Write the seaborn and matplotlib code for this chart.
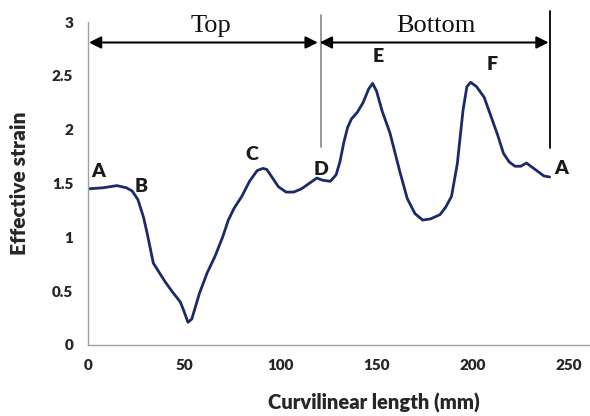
import matplotlib
matplotlib.use("Agg")
import matplotlib.pyplot as plt
import seaborn as sns
import pandas as pd

# Data
length_mm = [0, 8, 15, 20, 23, 26, 29, 31, 34, 40, 44, 48, 50, 52, 54, 58, 62, 66, 70, 73, 76, 80, 84,
             88, 91, 93, 96, 99, 103, 107, 111, 115, 119, 122, 126, 129, 131, 133, 135, 137, 140, 143,
             146, 148, 150, 153, 157, 162, 166, 170, 174, 178, 183, 186, 189, 192, 195, 197, 199, 202,
             206, 209, 213, 216, 219, 222, 225, 228, 231, 234, 237, 240]
strain = [1.45, 1.46, 1.48, 1.46, 1.43, 1.35, 1.18, 1.02, 0.76, 0.59, 0.49, 0.40, 0.31, 0.21, 0.24,
          0.48, 0.67, 0.82, 1.00, 1.16, 1.27, 1.38, 1.52, 1.62, 1.64, 1.63, 1.55, 1.47, 1.42, 1.42,
          1.45, 1.50, 1.55, 1.53, 1.52, 1.58, 1.70, 1.88, 2.02, 2.10, 2.16, 2.25, 2.38, 2.43, 2.36,
          2.17, 1.97, 1.62, 1.36, 1.22, 1.16, 1.17, 1.21, 1.28, 1.38, 1.68, 2.18, 2.40, 2.44, 2.40,
          2.30, 2.15, 1.95, 1.78, 1.70, 1.66, 1.66, 1.69, 1.65, 1.61, 1.57, 1.56]
point_labels = ["A", "B", "C", "D", "E", "F", "A"]
label_x = [5.5, 27.5, 85, 121, 151, 210, 246]
label_y = [1.61, 1.47, 1.77, 1.63, 2.68, 2.61, 1.64]
region_names = ["Top", "Bottom"]
region_start = [0, 120]
region_end = [120, 240]
region_text_x = [64, 181]
x_ticks = [0, 50, 100, 150, 200, 250]
y_ticks = [0, 0.5, 1, 1.5, 2, 2.5, 3]

sns.set_style("white")
plt.rcParams["font.family"] = ["Lato", "DejaVu Sans"]

fig = plt.figure(figsize=(5.9, 4.16), dpi=100)
ax = fig.add_axes([0.149, 0.171, 0.851, 0.776])

df = pd.DataFrame({"x": length_mm, "y": strain})
sns.lineplot(data=df, x="x", y="y", ax=ax, color="#1c2a6a", linewidth=2.0, sort=False)

ax.set_xlim(0, 261)
ax.set_ylim(0, 3)
ax.set_xticks(x_ticks)
ax.set_yticks(y_ticks)
ax.set_xticklabels([str(t) for t in x_ticks], fontsize=11, fontweight="heavy")
ax.set_yticklabels([("%g" % t) for t in y_ticks], fontsize=11, fontweight="heavy")
ax.tick_params(axis="both", direction="out", length=4.5, width=1, color="#a0a0a0", pad=6)
for s in ["top", "right"]:
    ax.spines[s].set_visible(False)
for s in ["left", "bottom"]:
    ax.spines[s].set_color("#a0a0a0")
    ax.spines[s].set_linewidth(1)
ax.set_xlabel("Curvilinear length (mm)", fontsize=14.5, fontweight="heavy")
ax.set_ylabel("Effective strain", fontsize=15, fontweight="heavy")
ax.xaxis.set_label_coords(0.57, -0.15)
ax.yaxis.set_label_coords(-0.118, 0.5)

for t, lx, ly in zip(point_labels, label_x, label_y):
    ax.text(lx, ly, t, fontsize=14, fontweight="heavy", color="#1a1a1a", ha="center", va="center")

arrow_y = 2.81
for name, x0, x1, tx in zip(region_names, region_start, region_end, region_text_x):
    ax.annotate("", xy=(x0 + 0.5, arrow_y), xytext=(x1 - 0.5, arrow_y),
                arrowprops=dict(arrowstyle="<|-|>", color="black", lw=1.5,
                                mutation_scale=18, shrinkA=0, shrinkB=0),
                annotation_clip=False)
    ax.text(tx, 2.96, name, fontsize=19, family="Liberation Serif",
            ha="center", va="center", color="#111111", clip_on=False)

ax.plot([121, 121], [1.84, 3.07], color="#909090", lw=1.3, clip_on=False)
ax.plot([240, 240], [1.83, 3.1], color="black", lw=1.3, clip_on=False)

fig.savefig("out.png", dpi=100)
